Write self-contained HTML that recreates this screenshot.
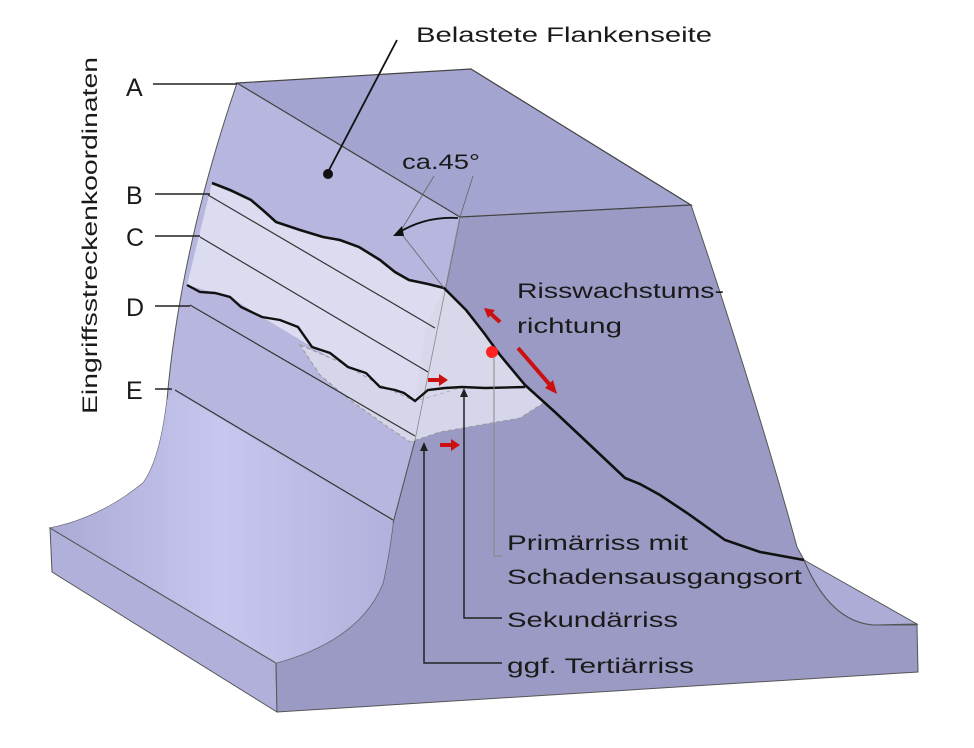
<!DOCTYPE html>
<html><head><meta charset="utf-8"><style>
html,body{margin:0;padding:0;background:#fff;}
svg{display:block;}
text{font-family:"Liberation Sans",sans-serif;fill:#1a1a1a;}
</style></head><body>
<svg width="974" height="748" viewBox="0 0 974 748" xmlns="http://www.w3.org/2000/svg">
<defs>
<linearGradient id="fil" x1="0" y1="0" x2="1" y2="0">
<stop offset="0" stop-color="#a8a8d4"/><stop offset="0.5" stop-color="#c8c8f0"/><stop offset="1" stop-color="#b0b0dc"/>
</linearGradient>
</defs>
<polygon points="50,528 276,663 277,712 52,572" fill="#b0b0da" stroke="#555" stroke-width="1"/>
<path d="M460,217 L691,205 C720,290 765,430 797,547 L804,560 Q830,622 874,625 L917,625 L918,672 L277,712 L276,663 Q360,640 383,583 Q390,550 393,523 L415,440 Z" fill="#9a9ac4" stroke="#555" stroke-width="1"/>
<path d="M804,560 L917,624 L874,625 Q830,622 804,560 Z" fill="#acacd6" stroke="#555" stroke-width="1"/>
<path d="M237,83 L460,217 L415,440 L393,523 Q390,550 383,583 Q360,640 276,663 L50,528 Q100,518 143,483 Q160,460 167,400 Q180,250 237,83 Z" fill="#b6b6de" stroke="#555" stroke-width="1"/>
<path d="M50,528 Q100,518 143,483 Q160,460 167,400 L173,390 L393,523 Q390,550 383,583 Q360,640 276,663 Z" fill="url(#fil)" opacity="0.9"/>
<path d="M50,528 L276,663" stroke="#555" stroke-width="1"/>
<polygon points="237,83 471,69 691,205 460,217" fill="#a4a4d0" stroke="#444" stroke-width="1.2"/>
<path d="M212,183 L230,192 L251,200 L265,212 L276,222 L300,230 L323,237 L359,247 L380,260 L409,280 L444,288 L466,310 L484,333 L500,360 L525,387 L462,387 L415,401 L380,387 L348,367 L312,347 L262,317 L230,297 L187,285 Z" fill="#dcdcf0"/>
<path d="M300,345 L340,362 L380,385 L415,401 L462,387 L525,387 L545,402 L520,418 L480,425 L440,432 L410,442 L385,425 L350,400 L320,375 Z" fill="#d6d6ea" stroke="#999" stroke-width="1" stroke-dasharray="4,3"/>
<path d="M444,288 L484,333 L525,387 L462,387 L415,401 L425,330 Z" fill="#d8d8ea"/>
<g stroke="#333" stroke-width="1.2" fill="none">
<line x1="208" y1="195" x2="435" y2="328"/>
<line x1="200" y1="237" x2="428" y2="372"/>
<line x1="190" y1="305" x2="415" y2="436"/>
<line x1="175" y1="390" x2="393" y2="520"/>
<line x1="460" y1="217" x2="415" y2="440" stroke="#888" stroke-width="0.8"/>
</g>
<path d="M212,183 L230,190 L251,200 L265,212 L276,222 L300,230 L323,237 L340,240 L359,247 L380,260 L395,272 L409,280 L428,284 L444,288 L466,310 L484,333 L500,355 L525,385 L556,413 L590,445 L625,478 L640,484 L660,495 L687,513 L725,540 L760,552 L804,560" fill="none" stroke="#111" stroke-width="2.6"/>
<path d="M187,285 L200,292 L215,293 L230,297 L241,307 L262,317 L280,320 L298,327 L312,347 L330,353 L348,367 L366,373 L380,387 L395,390 L404,393 L415,401 L428,390 L445,388 L462,387 L485,388 L525,387" fill="none" stroke="#111" stroke-width="2.4"/>
<g stroke="#666" stroke-width="0.8" fill="none">
<line x1="434" y1="176" x2="400" y2="232"/>
<line x1="473" y1="176" x2="460" y2="217"/>
<line x1="400" y1="232" x2="444" y2="288"/>
</g>
<path d="M398,233 Q425,216 458,218" fill="none" stroke="#111" stroke-width="1.8"/>
<polygon points="393,236 402,226 404,236" fill="#111"/>
<line x1="397" y1="40" x2="328" y2="172" stroke="#111" stroke-width="1.8"/>
<circle cx="328" cy="174" r="5" fill="#111"/>
<circle cx="492" cy="352" r="6" fill="#ff2020"/>
<g stroke="#cc1010" stroke-width="4" fill="none">
<line x1="500" y1="322" x2="490" y2="313"/>
<line x1="518" y1="348" x2="550" y2="385"/>
<line x1="428" y1="380" x2="440" y2="380"/>
<line x1="440" y1="445" x2="452" y2="445"/>
</g>
<g fill="#cc1010">
<polygon points="484,308 495,310 488,318"/>
<polygon points="557,394 545,388 553,380"/>
<polygon points="448,380 439,374 439,386"/>
<polygon points="460,445 451,439 451,451"/>
</g>
<polyline points="494,356 494,556 502,556" fill="none" stroke="#888" stroke-width="1"/>
<polyline points="464,392 464,618 502,618" fill="none" stroke="#222" stroke-width="1.5"/>
<polygon points="464,388 460,397 468,397" fill="#222"/>
<polyline points="424,446 424,663 502,663" fill="none" stroke="#222" stroke-width="1.5"/>
<polygon points="424,442 420,451 428,451" fill="#222"/>
<g stroke="#222" stroke-width="1.5">
<line x1="153" y1="84" x2="237" y2="84"/>
<line x1="155" y1="194" x2="210" y2="194"/>
<line x1="155" y1="236" x2="200" y2="236"/>
<line x1="155" y1="306" x2="190" y2="306"/>
<line x1="155" y1="389" x2="172" y2="389"/>
</g>
<g font-size="25">
<text x="126" y="96">A</text>
<text x="126" y="204">B</text>
<text x="126" y="246">C</text>
<text x="126" y="316">D</text>
<text x="126" y="399">E</text>
</g>
<text x="0" y="0" font-size="21" transform="translate(97,414) rotate(-90)" textLength="357" lengthAdjust="spacingAndGlyphs">Eingriffsstreckenkoordinaten</text>
<g font-size="21">
<text x="416" y="42" textLength="296" lengthAdjust="spacingAndGlyphs">Belastete Flankenseite</text>
<text x="402" y="169" textLength="78" lengthAdjust="spacingAndGlyphs">ca.45°</text>
<text x="517" y="298" textLength="207" lengthAdjust="spacingAndGlyphs">Risswachstums-</text>
<text x="517" y="333" textLength="105" lengthAdjust="spacingAndGlyphs">richtung</text>
<text x="507" y="550" textLength="181" lengthAdjust="spacingAndGlyphs">Primärriss mit</text>
<text x="507" y="584" textLength="295" lengthAdjust="spacingAndGlyphs">Schadensausgangsort</text>
<text x="507" y="627" textLength="171" lengthAdjust="spacingAndGlyphs">Sekundärriss</text>
<text x="507" y="673" textLength="187" lengthAdjust="spacingAndGlyphs">ggf. Tertiärriss</text>
</g>
</svg>
</body></html>
